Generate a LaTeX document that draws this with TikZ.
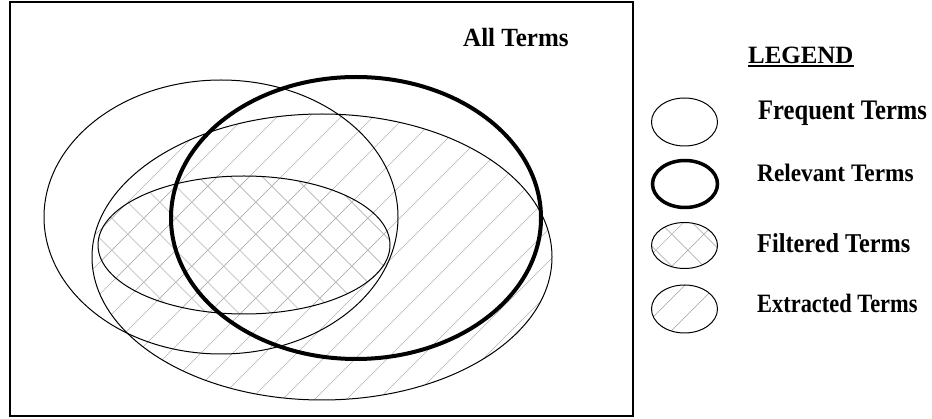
\documentclass[tikz,border=0pt]{standalone}
\usepackage{fontspec}
\usepackage{graphicx}
\setmainfont{Liberation Serif}
\begin{document}
\begin{tikzpicture}[x=1pt,y=-1pt,
  thinline/.style={line width=1pt},
  thickline/.style={line width=4pt},
  hatch/.style={draw=black!30, line width=0.7pt},
  lab/.style={anchor=base west, inner sep=0pt, font=\bfseries}]
\useasboundingbox (0,0) rectangle (932,419);
% centres
\coordinate (freq) at (221,217);
\coordinate (extr) at (322,257);
\coordinate (filt) at (244,245);
\coordinate (rel) at (356,218);
\coordinate (lfreq) at (684.5,122);
\coordinate (lrel) at (685,184);
\coordinate (lfilt) at (684.5,245.5);
\coordinate (lextr) at (684.5,309);
% outer frame
\draw[line width=2pt] (9.5,2.5) rectangle (633,416.5);
% hatching of extracted terms
\begin{scope}
  \clip (extr) ellipse [x radius=230, y radius=143];
  \foreach \k in {8,...,28} {\draw[hatch] ({10+32*\k-100},100) -- ({10+32*\k-420},420);}
\end{scope}
% cross-hatching of filtered terms
\begin{scope}
  \clip (filt) ellipse [x radius=146, y radius=69];
  \foreach \k in {-7,...,6} {\draw[hatch] ({21.5+32*\k+170},170) -- ({21.5+32*\k+330},330);}
  \foreach \k in {8,...,22} {\draw[hatch] ({10+32*\k-170},170) -- ({10+32*\k-330},330);}
\end{scope}
% legend hatching
\begin{scope}
  \clip (lfilt) ellipse [x radius=33, y radius=23];
  \foreach \k in {10,...,16} {\draw[hatch] ({21.5+32*\k+220},220) -- ({21.5+32*\k+270},270);}
  \foreach \k in {26,...,31} {\draw[hatch] ({10+32*\k-220},220) -- ({10+32*\k-270},270);}
\end{scope}
\begin{scope}
  \clip (lextr) ellipse [x radius=33, y radius=24];
  \foreach \k in {28,...,34} {\draw[hatch] ({10+32*\k-280},280) -- ({10+32*\k-340},340);}
\end{scope}
% main ellipses
\draw[thinline] (freq) ellipse [x radius=177, y radius=137];
\draw[thinline] (extr) ellipse [x radius=230, y radius=143];
\draw[thinline] (filt) ellipse [x radius=146, y radius=69];
\draw[thickline] (rel) ellipse [x radius=185, y radius=141];
% legend ellipses
\draw[thinline] (lfreq) ellipse [x radius=33, y radius=24];
\draw[thickline, line width=3.5pt] (lrel) ellipse [x radius=32.5, y radius=23.5];
\draw[thinline] (lfilt) ellipse [x radius=33, y radius=23];
\draw[thinline] (lextr) ellipse [x radius=33, y radius=24];
% texts
\node[lab, font=\bfseries\fontsize{25}{30}\selectfont] (all) at (463,47) {\scalebox{1}[1.05]{All Terms}};
\node[lab, font=\bfseries\fontsize{24.9}{30}\selectfont] (legend) at (748,63.3) {LEGEND};
\draw[line width=1.3pt] ([yshift=-2.6pt]legend.base west) -- ([yshift=-2.6pt]legend.base east);
\node[lab, font=\bfseries\fontsize{24.6}{30}\selectfont] (tfreq) at (758,119.3) {\scalebox{1}[1.15]{Frequent Terms}};
\node[lab, font=\bfseries\fontsize{23.3}{28}\selectfont] (trel) at (757,181.7) {\scalebox{1}[1.08]{Relevant Terms}};
\node[lab, font=\bfseries\fontsize{24.3}{29}\selectfont] (tfilt) at (757,253) {\scalebox{1}[1.12]{Filtered Terms}};
\node[lab, font=\bfseries\fontsize{22.4}{27}\selectfont] (textr) at (757,313) {\scalebox{1}[1.18]{Extracted Terms}};
\end{tikzpicture}
\end{document}
